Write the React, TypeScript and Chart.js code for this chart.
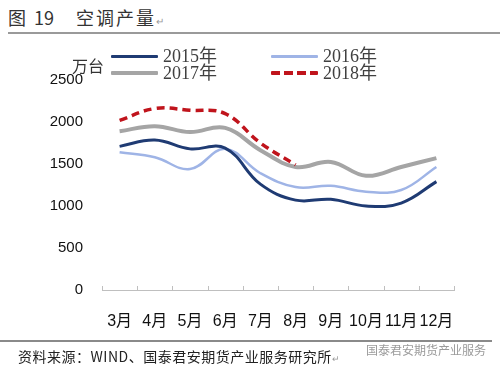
import React, { useEffect, useRef } from "react";
import { Chart, registerables } from "chart.js";

Chart.register(...registerables);

const categories = ["3月", "4月", "5月", "6月", "7月", "8月", "9月", "10月", "11月", "12月"];
const s2015 = [1710, 1785, 1680, 1690, 1260, 1070, 1080, 1000, 1035, 1290];
const s2016 = [1640, 1580, 1440, 1680, 1390, 1225, 1240, 1170, 1190, 1465];
const s2017 = [1890, 1950, 1880, 1930, 1665, 1465, 1525, 1360, 1465, 1570];
const s2018 = [2020, 2160, 2140, 2100, 1750, 1490, null, null, null, null];
const yMin = 0;
const yMax = 2500;
const yStep = 500;

const C2015 = "#1F3B73";
const C2016 = "#9FB4E6";
const C2017 = "#A5A5A5";
const C2018 = "#C0141C";

const insideTicks = {
  id: "insideTicks",
  beforeDatasetsDraw(chart: any) {
    const x = chart.scales.x;
    const ctx = chart.ctx;
    const bottom = chart.chartArea.bottom;
    ctx.save();
    ctx.strokeStyle = "#BFBFBF";
    ctx.lineWidth = 1;
    for (let i = 0; i <= categories.length; i++) {
      const px = Math.round(x.getPixelForValue(i - 0.5)) + 0.5;
      ctx.beginPath();
      ctx.moveTo(px, bottom);
      ctx.lineTo(px, bottom - 4);
      ctx.stroke();
    }
    ctx.restore();
  },
};

function LegendItem(props: { left: number; top: number; color: string; width: number; dashed?: boolean; label: string }) {
  const { left, top, color, width, dashed, label } = props;
  const bg = dashed
    ? `repeating-linear-gradient(90deg, ${color} 0px, ${color} 9px, transparent 9px, transparent 13px)`
    : color;
  return (
    <div style={{ position: "absolute", left, top, height: 20, display: "flex", alignItems: "center" }}>
      <div style={{ width: 47, height: width, background: bg, borderRadius: 1 }} />
      <span
        style={{
          marginLeft: 5,
          fontFamily: '"Liberation Serif", "Noto Sans CJK SC", serif',
          fontSize: 18,
          color: "#404040",
          lineHeight: "20px",
        }}
      >
        {label}
      </span>
    </div>
  );
}

export default function App() {
  const ref = useRef<HTMLCanvasElement | null>(null);

  useEffect(() => {
    if (!ref.current) return;
    const chart = new Chart(ref.current, {
      type: "line",
      data: {
        labels: categories,
        datasets: [
          { label: "2015年", data: s2015, borderColor: C2015, borderWidth: 3, order: 2 },
          { label: "2016年", data: s2016, borderColor: C2016, borderWidth: 2.5, order: 3 },
          { label: "2017年", data: s2017, borderColor: C2017, borderWidth: 4, order: 4 },
          { label: "2018年", data: s2018, borderColor: C2018, borderWidth: 3.5, borderDash: [8, 5], order: 1 },
        ].map((d) => ({
          ...d,
          pointRadius: 0,
          tension: 0.4,
          fill: false,
          spanGaps: false,
          borderCapStyle: "butt" as const,
        })),
      },
      plugins: [insideTicks],
      options: {
        responsive: false,
        animation: false,
        devicePixelRatio: 1,
        layout: { padding: { left: 0, right: 46, top: 80, bottom: 0 } },
        plugins: { legend: { display: false }, tooltip: { enabled: false }, title: { display: false } },
        scales: {
          x: {
            type: "category",
            offset: true,
            grid: { display: true, drawOnChartArea: false, drawTicks: false },
            border: { display: true, color: "#BFBFBF", width: 1 },
            ticks: {
              padding: 22,
              color: "#111",
              maxRotation: 0,
              autoSkip: false,
              font: { family: '"Liberation Sans", "Noto Sans CJK SC", sans-serif', size: 16 },
            },
            afterFit: (s: any) => {
              s.height = 82;
            },
          },
          y: {
            min: yMin,
            max: yMax,
            grid: { display: false, drawTicks: false },
            border: { display: false },
            ticks: {
              stepSize: yStep,
              padding: 19,
              color: "#111",
              font: { family: '"Liberation Sans", Arial, sans-serif', size: 15 },
              callback: (v: any) => String(v),
            },
            afterFit: (s: any) => {
              s.width = 102;
            },
          },
        },
      },
    });
    return () => chart.destroy();
  }, []);

  return (
    <div style={{ position: "absolute", left: 0, top: 0, width: 500, height: 372, background: "#fff", overflow: "hidden" }}>
      <div
        style={{
          position: "absolute",
          left: 8,
          top: 5,
          fontFamily: '"Noto Sans CJK SC", sans-serif',
          fontSize: 18,
          color: "#333",
          whiteSpace: "pre",
          lineHeight: "24px",
        }}
      >
        <span>图</span>
        <span style={{ marginLeft: 8 }}>19</span>
        <span style={{ marginLeft: 22, letterSpacing: 2 }}>空调产量</span>
        <span style={{ fontSize: 10, color: "#999" }}>↵</span>
      </div>
      <div style={{ position: "absolute", left: 8, top: 32, width: 492, height: 2, background: "#9A9A9A" }} />
      <canvas ref={ref} width={500} height={372} style={{ position: "absolute", left: 0, top: 0, width: 500, height: 372 }} />
      <div
        style={{
          position: "absolute",
          left: 72,
          top: 56,
          fontFamily: '"Noto Sans CJK SC", sans-serif',
          fontSize: 16,
          color: "#333",
          lineHeight: "18px",
        }}
      >
        万台
      </div>
      <LegendItem left={111} top={46} color={C2015} width={3} label="2015年" />
      <LegendItem left={271} top={46} color={C2016} width={3} label="2016年" />
      <LegendItem left={111} top={63} color={C2017} width={4} label="2017年" />
      <LegendItem left={271} top={63} color={C2018} width={3.5} dashed label="2018年" />
      <div style={{ position: "absolute", left: 0, top: 340, width: 492, height: 1.5, background: "#8A8A8A" }} />
      <div
        style={{
          position: "absolute",
          left: 18,
          top: 347,
          fontFamily: '"Noto Sans CJK SC", sans-serif',
          fontSize: 14,
          color: "#222",
          lineHeight: "18px",
          whiteSpace: "nowrap",
          letterSpacing: 0.5,
        }}
      >
        资料来源：WIND、国泰君安期货产业服务研究所<span style={{ fontSize: 9, color: "#999" }}>↵</span>
      </div>
      <div
        style={{
          position: "absolute",
          left: 366,
          top: 342,
          fontFamily: '"Noto Sans CJK SC", sans-serif',
          fontSize: 12,
          color: "#9A9A9A",
          lineHeight: "16px",
          whiteSpace: "nowrap",
        }}
      >
        国泰君安期货产业服务
      </div>
    </div>
  );
}
